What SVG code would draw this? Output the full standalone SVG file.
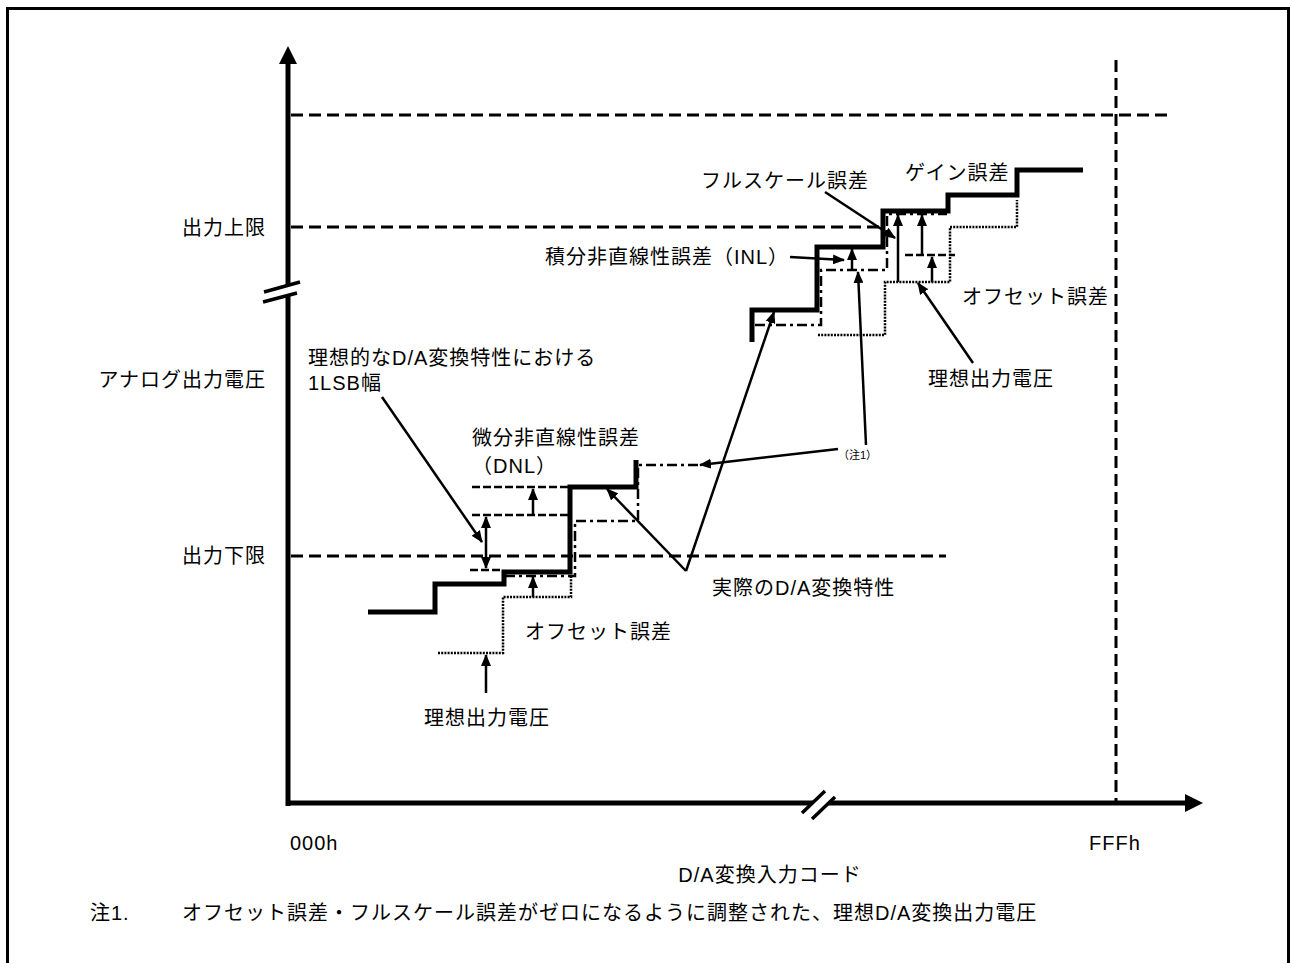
<svg xmlns="http://www.w3.org/2000/svg" width="1290" height="963" viewBox="0 0 1290 963">
<style>
text{font-family:"Liberation Sans","Noto Sans CJK JP",sans-serif;font-size:20px;fill:#000;letter-spacing:1px}
.sm{font-size:11px;letter-spacing:0}
.thick{fill:none;stroke:#000;stroke-width:5;stroke-linejoin:miter}
.ref{fill:none;stroke:#000;stroke-width:3;stroke-dasharray:12 6}
.sref{fill:none;stroke:#000;stroke-width:2.5;stroke-dasharray:8 3}
.dot{fill:none;stroke:#000;stroke-width:2.5;stroke-dasharray:2 1.2}
.dd{fill:none;stroke:#000;stroke-width:2.5;stroke-dasharray:10 4 3 4}
.arr{fill:none;stroke:#000;stroke-width:2.5;marker-end:url(#ah)}
.arr2{fill:none;stroke:#000;stroke-width:2.5;marker-end:url(#ah);marker-start:url(#ah)}
</style>
<defs>
<marker id="ah" markerUnits="userSpaceOnUse" markerWidth="12" markerHeight="10" refX="11" refY="5" orient="auto-start-reverse">
<path d="M0,0 L12,5 L0,10 z" fill="#000"/>
</marker>
</defs>
<rect width="1290" height="963" fill="#fff"/>
<path d="M7.5,975 V8.5 H1288.5 V975" fill="none" stroke="#000" stroke-width="3"/>

<g id="axes">
<line x1="288" y1="60" x2="288" y2="806" stroke="#000" stroke-width="5"/>
<polygon points="288,46 279,64 297,64" fill="#000"/>
<polygon points="262,292 301,282 301,292 262,302" fill="#fff"/>
<line x1="264" y1="292" x2="300" y2="282" stroke="#000" stroke-width="3.5"/>
<line x1="263" y1="302" x2="297" y2="293" stroke="#000" stroke-width="3.5"/>
<line x1="286" y1="803" x2="1188" y2="803" stroke="#000" stroke-width="5"/>
<polygon points="1203,803 1185,794 1185,812" fill="#000"/>
<polygon points="802,813 825,791 835,797 812,819" fill="#fff"/>
<line x1="802" y1="813" x2="825" y2="791" stroke="#000" stroke-width="3.5"/>
<line x1="812" y1="819" x2="835" y2="797" stroke="#000" stroke-width="3.5"/>
</g>

<g id="reflines">
<line class="ref" x1="291" y1="115" x2="1170" y2="115"/>
<line class="ref" x1="291" y1="227" x2="881" y2="227"/>
<line class="ref" x1="291" y1="556" x2="946" y2="556"/>
<line class="ref" x1="1116" y1="60" x2="1116" y2="801"/>
</g>

<g id="lower-steps">
<line class="sref" x1="472" y1="487" x2="568" y2="487"/>
<line class="sref" x1="472" y1="515" x2="568" y2="515"/>
<line class="sref" x1="470" y1="570" x2="503" y2="570"/>
<path class="dot" d="M438,653 H503 V597 H571 V575"/>
<path class="dd" d="M505,576 H575 V521 H638 V465 H700"/>
<path class="thick" d="M368,612 H435 V584 H504 V572 H570 V487 H636 V460"/>
</g>

<g id="upper-steps">
<line class="sref" x1="905" y1="255" x2="955" y2="255"/>
<path class="dot" d="M818,335 H885 V282 H950 V227 H1017 V200"/>
<path class="dd" d="M755,325 H821 V270 H887 V214 H947"/>
<path class="thick" d="M752,342 V310 H817 V247 H883 V211 H948 V195 H1017 V170 H1083"/>
</g>

<g id="connectors">
<line class="arr2" x1="486" y1="517" x2="486" y2="568"/>
<line class="arr" x1="533" y1="515" x2="533" y2="489"/>
<line class="arr" x1="533" y1="597" x2="533" y2="577"/>
<line class="arr" x1="486" y1="693" x2="486" y2="655"/>
<line class="arr" x1="382" y1="397" x2="482" y2="542"/>
<line class="arr" x1="686" y1="571" x2="607" y2="489"/>
<line class="arr" x1="686" y1="571" x2="774" y2="312"/>
<line class="arr" x1="838" y1="449" x2="700" y2="465"/>
<line class="arr" x1="866" y1="445" x2="858" y2="272"/>
<line class="arr" x1="790" y1="257" x2="844" y2="260"/>
<line class="arr" x1="852" y1="270" x2="852" y2="249"/>
<line class="arr" x1="825" y1="192" x2="895" y2="238"/>
<line class="arr" x1="898" y1="282" x2="898" y2="215"/>
<line class="arr" x1="922" y1="255" x2="922" y2="215"/>
<line class="arr" x1="932" y1="282" x2="932" y2="257"/>
<line class="arr" x1="973" y1="363" x2="918" y2="283"/>
</g>

<g id="labels">
<text x="182" y="235">出力上限</text>
<text x="266" y="387" text-anchor="end">アナログ出力電圧</text>
<text x="182" y="563">出力下限</text>
<text x="308" y="365">理想的なD/A変換特性における</text>
<text x="308" y="390">1LSB幅</text>
<text x="472" y="445">微分非直線性誤差</text>
<text x="472" y="473">（DNL）</text>
<text x="525" y="639">オフセット誤差</text>
<text x="424" y="725">理想出力電圧</text>
<text x="712" y="595">実際のD/A変換特性</text>
<text class="sm" x="838" y="459">（注1）</text>
<text x="545" y="264">積分非直線性誤差（INL）</text>
<text x="701" y="188">フルスケール誤差</text>
<text x="905" y="180">ゲイン誤差</text>
<text x="962" y="304">オフセット誤差</text>
<text x="928" y="386">理想出力電圧</text>
<text x="290" y="850">000h</text>
<text x="1089" y="850">FFFh</text>
<text x="770" y="882" text-anchor="middle">D/A変換入力コード</text>
<text x="90" y="920">注1.</text>
<text x="182" y="920">オフセット誤差・フルスケール誤差がゼロになるように調整された、理想D/A変換出力電圧</text>
</g>
</svg>
